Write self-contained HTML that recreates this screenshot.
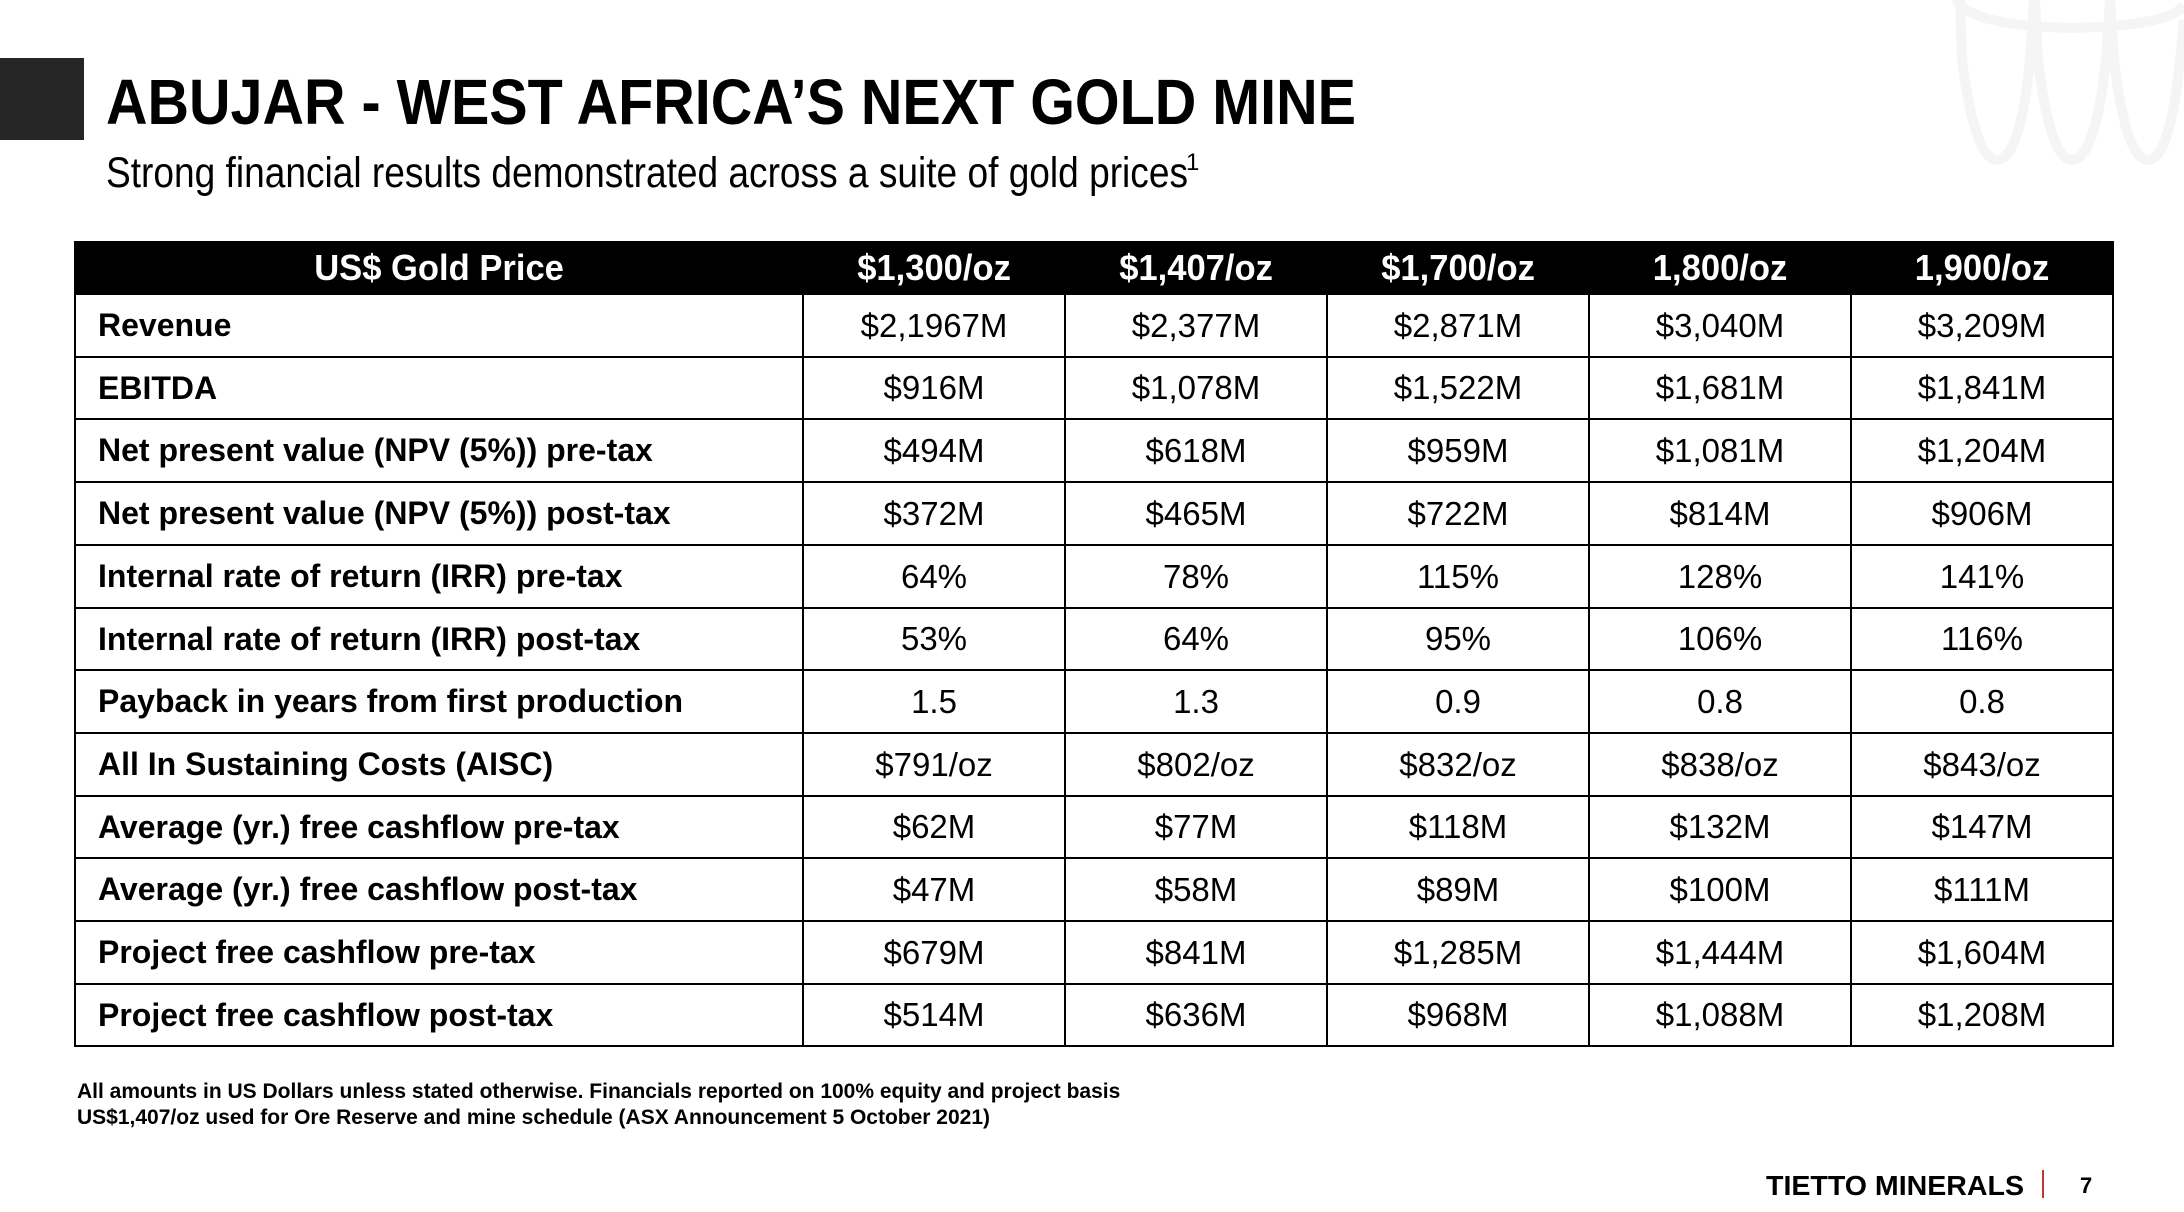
<!DOCTYPE html>
<html><head><meta charset="utf-8">
<style>
html,body{margin:0;padding:0;background:#fff;}
#page{position:relative;width:2184px;height:1212px;overflow:hidden;background:#fff;font-family:"Liberation Sans",sans-serif;}
table{position:absolute;left:74px;top:241px;width:2036px;border-collapse:collapse;table-layout:fixed;}
td,th{border:2px solid #000;padding:0;height:60px;white-space:nowrap;overflow:visible;}
th{background:#000;color:#fff;height:50px;font-size:36px;font-weight:bold;text-align:center;border-color:#000;}
td{font-size:32px;color:#000;}
td.val{font-size:33px;}
td.lab{font-weight:bold;padding-left:22px;text-align:left;}
td.val{text-align:center;}
.sx{display:inline-block;transform:scaleX(1.0);}
th .sx{transform:scaleX(0.96);}
.lab .sx{transform-origin:left center;}
.val .sx,th .sx{transform-origin:center center;}
.foot{position:absolute;left:77px;font-size:21px;font-weight:bold;color:#000;}
</style></head><body>
<div id="page">
<svg width="2184" height="1212" style="position:absolute;left:0;top:0">
  <g fill="none" stroke="#f5f5f5" stroke-width="10">
    <path d="M1960,0 L1962,60 Q1975,160 1997,160 Q2020,160 2030,60 L2034,0"/>
    <path d="M2035,0 L2038,60 Q2050,160 2072,160 Q2095,160 2106,60 L2110,0"/>
    <path d="M2110,0 L2114,60 Q2126,160 2148,160 Q2170,160 2180,60 L2184,20"/>
    <path d="M1955,-5 Q1960,25 2070,28 Q2170,26 2184,5"/>
  </g>
  <rect x="0" y="58" width="84" height="82" fill="#262626"/>
  <text x="106" y="124" font-family="Liberation Sans, sans-serif" font-weight="bold" font-size="64" fill="#000" textLength="1250" lengthAdjust="spacingAndGlyphs">ABUJAR - WEST AFRICA’S NEXT GOLD MINE</text>
  <text x="106" y="187" font-family="Liberation Sans, sans-serif" font-size="43" fill="#000" textLength="1082" lengthAdjust="spacingAndGlyphs">Strong financial results demonstrated across a suite of gold prices</text>
  <text x="1186" y="170" font-family="Liberation Sans, sans-serif" font-size="24" fill="#000">1</text>
  <text x="1766" y="1195" font-family="Liberation Sans, sans-serif" font-weight="bold" font-size="28" fill="#000" textLength="258" lengthAdjust="spacingAndGlyphs">TIETTO MINERALS</text>
  <rect x="2042" y="1170" width="2" height="28" fill="#c0392b"/>
  <text x="2080" y="1193" font-family="Liberation Sans, sans-serif" font-weight="bold" font-size="22" fill="#000">7</text>
</svg>
<table id="tbl">
  <colgroup><col style="width:728px"><col style="width:262px"><col style="width:262px"><col style="width:262px"><col style="width:262px"><col style="width:262px"></colgroup>
  <thead><tr id="hdr"></tr></thead>
  <tbody id="body"></tbody>
</table>
<div class="foot" style="top:1080px">All amounts in US Dollars unless stated otherwise. Financials reported on 100% equity and project basis</div>
<div class="foot" style="top:1106px">US$1,407/oz used for Ore Reserve and mine schedule (ASX Announcement 5 October 2021)</div>
</div>
<script>
const headers = ["US$ Gold Price","$1,300/oz","$1,407/oz","$1,700/oz","1,800/oz","1,900/oz"];
const rowLabels = ["Revenue","EBITDA","Net present value (NPV (5%)) pre-tax","Net present value (NPV (5%)) post-tax","Internal rate of return (IRR) pre-tax","Internal rate of return (IRR) post-tax","Payback in years from first production","All In Sustaining Costs (AISC)","Average (yr.) free cashflow pre-tax","Average (yr.) free cashflow post-tax","Project free cashflow pre-tax","Project free cashflow post-tax"];
const values = [
["$2,1967M","$2,377M","$2,871M","$3,040M","$3,209M"],
["$916M","$1,078M","$1,522M","$1,681M","$1,841M"],
["$494M","$618M","$959M","$1,081M","$1,204M"],
["$372M","$465M","$722M","$814M","$906M"],
["64%","78%","115%","128%","141%"],
["53%","64%","95%","106%","116%"],
["1.5","1.3","0.9","0.8","0.8"],
["$791/oz","$802/oz","$832/oz","$838/oz","$843/oz"],
["$62M","$77M","$118M","$132M","$147M"],
["$47M","$58M","$89M","$100M","$111M"],
["$679M","$841M","$1,285M","$1,444M","$1,604M"],
["$514M","$636M","$968M","$1,088M","$1,208M"]
];
const ROW_PITCH = 62.7;
const hdr = document.getElementById('hdr');
headers.forEach((h,i)=>{
  const th = document.createElement('th');
  
  
  th.innerHTML = '<span class="sx">'+h+'</span>';
  hdr.appendChild(th);
});
const body = document.getElementById('body');
rowLabels.forEach((lab,r)=>{
  const hgt = Math.round((r+1)*ROW_PITCH) - Math.round(r*ROW_PITCH) - 2;
  const tr = document.createElement('tr');
  
  
  const td = document.createElement('td');
  td.className = 'lab';
  td.style.height = hgt + 'px';
  
  
  td.innerHTML = '<span class="sx">'+lab+'</span>';
  tr.appendChild(td);
  values[r].forEach(v=>{
    const c = document.createElement('td');
    c.className = 'val';
    c.style.height = hgt + 'px';
    
    
    c.innerHTML = '<span class="sx">'+v+'</span>';
    tr.appendChild(c);
  });
  body.appendChild(tr);
});
</script>
</body></html>
